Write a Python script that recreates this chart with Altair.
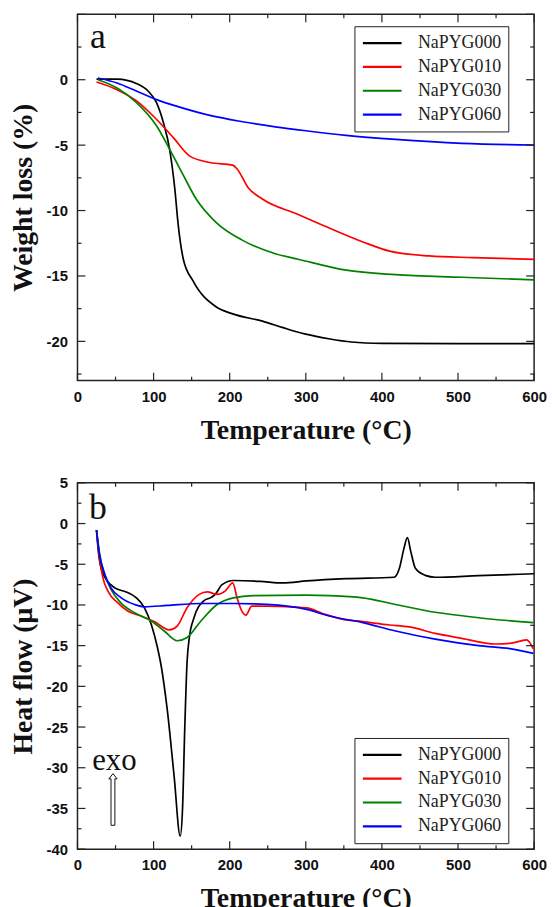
import altair as alt
import pandas as pd

series_names = ["NaPYG000", "NaPYG010", "NaPYG030", "NaPYG060"]
series_colors = ["#000000", "#ff0000", "#008000", "#0000ff"]

# ---------------- TGA (panel a): temperature (°C) vs weight loss (%) ----------------
tga_T_000 = [25, 52, 78, 93, 104, 113, 121, 128, 132, 139, 152, 182, 204, 243, 270, 300, 330, 360, 400, 500, 600]
tga_W_000 = [0.05, 0.05, -0.3, -0.88, -1.77, -3.3, -5.3, -8.4, -10.9, -13.7, -15.4, -17.35, -17.9, -18.45, -18.95,
             -19.45, -19.8, -20.05, -20.15, -20.18, -20.18]

tga_T_010 = [25, 52, 78, 104, 126, 147, 174, 204, 210, 224, 243, 290, 323, 375, 410, 462, 520, 600]
tga_W_010 = [-0.17, -0.76, -1.64, -3.04, -4.43, -5.82, -6.33, -6.53, -6.84, -8.23, -9.12, -10.3, -11.14, -12.4, -13.1,
             -13.47, -13.6, -13.73]

tga_T_030 = [27, 52, 78, 104, 121, 139, 156, 182, 217, 260, 290, 353, 418, 505, 600]
tga_W_030 = [0.0, -0.63, -1.77, -3.54, -5.3, -7.3, -9.12, -10.9, -12.28, -13.3, -13.72, -14.56, -14.9, -15.1, -15.3]

tga_T_060 = [27, 52, 78, 104, 130, 174, 217, 260, 300, 353, 418, 505, 600]
tga_W_060 = [0.13, -0.25, -0.88, -1.52, -2.02, -2.73, -3.21, -3.6, -3.9, -4.25, -4.56, -4.86, -4.99]

# ---------------- DSC (panel b): temperature (°C) vs heat flow (µV) ----------------
dsc_T_000 = [25, 27, 31, 38, 49, 64, 77, 88, 97, 105, 110, 118, 127, 135, 138, 141, 144, 147, 153, 166, 175, 181,
             190, 205, 240, 270, 301, 353, 416, 423, 429, 433.5, 438, 444, 457, 470, 527, 600]
dsc_V_000 = [-0.8, -3.05, -5.5, -6.9, -7.9, -8.4, -9.1, -10.35, -12.4, -15.2, -17.5, -22.9, -31.06, -38.4, -35.1, -25.0,
             -17.0, -14.0, -11.6, -9.5, -9.1, -8.7, -7.5, -7.0, -7.1, -7.3, -7.05, -6.77, -6.6, -5.5, -3.05, -1.74,
             -3.45, -5.5, -6.37, -6.6, -6.4, -6.17]

dsc_T_010 = [25, 29, 33.5, 40, 53, 66, 83.5, 101, 120.5, 131, 144, 160, 170.5, 183.5, 194, 204, 209.6, 216, 221.3, 229,
             249, 301, 323, 349, 375, 410, 436, 470, 505, 549, 570, 590, 599]
dsc_V_010 = [-0.8, -4.26, -6.7, -8.3, -9.74, -10.75, -11.36, -12.05, -13.07, -12.6, -10.35, -8.7, -8.4, -8.7, -8.3, -7.3,
             -9.1, -10.75, -11.24, -10.15, -10.15, -10.35, -11.08, -11.77, -12.05, -12.46, -12.7, -13.5, -14.1, -14.8,
             -14.7, -14.3, -15.4]

dsc_T_030 = [25, 29, 36, 44, 57, 75, 97, 114, 131, 144, 162, 183.5, 205, 231, 301, 331, 375, 418, 470, 527, 599]
dsc_V_030 = [-0.8, -3.65, -6.3, -8.1, -9.74, -10.96, -11.97, -13.2, -14.4, -14.0, -12.0, -9.94, -9.13, -8.85, -8.8,
             -8.85, -9.13, -9.94, -10.9, -11.57, -12.18]

dsc_T_060 = [25, 29, 36, 44, 57, 75, 88, 118, 162, 205, 249, 301, 331, 375, 418, 470, 527, 570, 599]
dsc_V_060 = [-0.8, -3.85, -6.3, -7.9, -9.1, -9.94, -10.23, -10.06, -9.82, -9.82, -9.94, -10.55, -11.36, -12.18, -13.2,
             -14.2, -15.0, -15.4, -15.95]

# ---------------- axes ----------------
x_domain = [0, 600]
x_labels = [0, 100, 200, 300, 400, 500, 600]
x_minor = [50, 150, 250, 350, 450, 550]

tga_domain = [-23, 5]
tga_labels = [-20, -15, -10, -5, 0]
tga_major = [-20, -15, -10, -5, 0, 5]
tga_minor = [-22.5, -17.5, -12.5, -7.5, -2.5, 2.5]

dsc_domain = [-40, 5]
dsc_labels = [-40, -35, -30, -25, -20, -15, -10, -5, 0, 5]
dsc_minor = [-37.5, -32.5, -27.5, -22.5, -17.5, -12.5, -7.5, -2.5, 2.5]

# annotations
tga_letter = {"T": [16.6], "V": [2.4], "txt": ["a"]}
dsc_letter = {"T": [15.0], "V": [0.6], "txt": ["b"]}
exo_text = {"T": [48.5], "V": [-30.3], "txt": ["exo"]}
exo_arrow = {"T": [46.6], "V": [-33.9]}

W, H = 460, 369
AXIS_COLOR = "#222222"


def long_df(pairs):
    rows = []
    for name, ts, vs in pairs:
        for t, v in zip(ts, vs):
            rows.append({"sample": name, "T": t, "V": v})
    return pd.DataFrame(rows)


tga_df = long_df([
    ("NaPYG000", tga_T_000, tga_W_000),
    ("NaPYG010", tga_T_010, tga_W_010),
    ("NaPYG030", tga_T_030, tga_W_030),
    ("NaPYG060", tga_T_060, tga_W_060),
])
dsc_df = long_df([
    ("NaPYG000", dsc_T_000, dsc_V_000),
    ("NaPYG010", dsc_T_010, dsc_V_010),
    ("NaPYG030", dsc_T_030, dsc_V_030),
    ("NaPYG060", dsc_T_060, dsc_V_060),
])


def panel(df, ytitle, ydomain, ylabels, ymajor, yminor, legend_y, letter, extra_layers=()):
    xs = alt.Scale(domain=x_domain, nice=False, zero=False)
    ys = alt.Scale(domain=ydomain, nice=False, zero=False)

    lines = alt.Chart(df).mark_line(strokeWidth=1.7, interpolate="monotone").encode(
        x=alt.X("T:Q", scale=xs, axis=alt.Axis(
            title="Temperature (°C)", values=x_labels, ticks=False, domain=False, grid=False,
            labelFont="Liberation Sans", labelFontWeight="bold", labelFontSize=15, labelColor="#111111",
            labelPadding=9, labelFlush=False, labelOverlap=False, labelExpr="'' + datum.value",
            titleFont="Liberation Serif", titleFontWeight="bold", titleFontSize=28, titleColor="#111111",
            titlePadding=12)),
        y=alt.Y("V:Q", scale=ys, axis=alt.Axis(
            title=ytitle, values=ylabels, ticks=False, domain=False, grid=False,
            labelFont="Liberation Sans", labelFontWeight="bold", labelFontSize=15, labelColor="#111111",
            labelPadding=10, labelFlush=False, labelOverlap=False, labelExpr="'' + datum.value",
            titleFont="Liberation Serif", titleFontWeight="bold", titleFontSize=28, titleColor="#111111",
            titlePadding=9)),
        color=alt.Color("sample:N", scale=alt.Scale(domain=series_names, range=series_colors),
                        legend=alt.Legend(title=None, orient="none", legendX=279, legendY=legend_y,
                                          direction="vertical", strokeColor=AXIS_COLOR, fillColor="white",
                                          padding=7, symbolType="stroke", symbolSize=1521,
                                          symbolStrokeWidth=2.2, labelFont="Liberation Serif",
                                          labelFontSize=18, labelOffset=15, labelColor="#222222",
                                          clipHeight=20, rowPadding=4)),
    )

    def xticks(vals, length):
        base = alt.Chart(pd.DataFrame({"T": vals}))
        b = base.mark_rule(color=AXIS_COLOR, strokeWidth=1.2).encode(
            x=alt.X("T:Q", scale=xs), y=alt.value(H), y2=alt.value(H - length))
        t = base.mark_rule(color=AXIS_COLOR, strokeWidth=1.2).encode(
            x=alt.X("T:Q", scale=xs), y=alt.value(0), y2=alt.value(length))
        return [b, t]

    def yticks(vals, length):
        base = alt.Chart(pd.DataFrame({"V": vals}))
        l = base.mark_rule(color=AXIS_COLOR, strokeWidth=1.2).encode(
            y=alt.Y("V:Q", scale=ys), x=alt.value(0), x2=alt.value(length))
        r = base.mark_rule(color=AXIS_COLOR, strokeWidth=1.2).encode(
            y=alt.Y("V:Q", scale=ys), x=alt.value(W), x2=alt.value(W - length))
        return [l, r]

    tick_layers = xticks(x_labels, 8) + xticks(x_minor, 4) + yticks(ymajor, 8) + yticks(yminor, 4)

    letter_layer = alt.Chart(pd.DataFrame(letter)).mark_text(
        font="Liberation Serif", fontSize=36, align="left", baseline="alphabetic", color="#111111"
    ).encode(x=alt.X("T:Q", scale=xs), y=alt.Y("V:Q", scale=ys), text="txt:N")

    layers = [lines] + tick_layers + [letter_layer]
    for mk in extra_layers:
        layers.append(mk(xs, ys))
    return alt.layer(*layers).properties(width=W, height=H)


def exo_label(xs, ys):
    return alt.Chart(pd.DataFrame(exo_text)).mark_text(
        font="Liberation Serif", fontSize=31, align="center", baseline="alphabetic", color="#111111"
    ).encode(x=alt.X("T:Q", scale=xs), y=alt.Y("V:Q", scale=ys), text="txt:N")


ARROW_PATH = "M0,-1 L0.16,-0.8 L0.075,-0.8 L0.075,1 L-0.075,1 L-0.075,-0.8 L-0.16,-0.8 Z"


def exo_arrow_layer(xs, ys):
    return alt.Chart(pd.DataFrame(exo_arrow)).mark_point(
        shape=ARROW_PATH, size=2704, filled=False, stroke="#111111", strokeWidth=1, opacity=1
    ).encode(x=alt.X("T:Q", scale=xs), y=alt.Y("V:Q", scale=ys))


top = panel(tga_df, "Weight loss (%)", tga_domain, tga_labels, tga_major, tga_minor, 12, tga_letter)
bottom = panel(dsc_df, "Heat flow (μV)", dsc_domain, dsc_labels, dsc_labels, dsc_minor, 257, dsc_letter,
               extra_layers=(exo_label, exo_arrow_layer))

chart = alt.vconcat(top, bottom, spacing=30).resolve_scale(color="independent").configure_view(
    stroke=AXIS_COLOR, strokeWidth=1.5
).properties(padding={"top": 1, "left": 0, "right": 0, "bottom": 0})

chart.save("out.html", embed_options={"renderer": "svg", "actions": False})
